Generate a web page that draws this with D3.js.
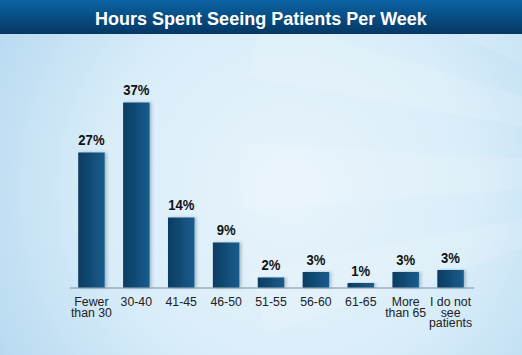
<!DOCTYPE html>
<html><head><meta charset="utf-8">
<script src="https://cdn.jsdelivr.net/npm/d3@7"></script>
<style>html,body{margin:0;padding:0;background:#d6ebf7;}svg{display:block;}</style>
</head><body>
<div id="chart"></div>
<script>
const title = "Hours Spent Seeing Patients Per Week";
const categories = ["Fewer\nthan 30", "30-40", "41-45", "46-50", "51-55", "56-60", "61-65", "More\nthan 65", "I do not\nsee\npatients"];
const values = [27, 37, 14, 9, 2, 3.1, 0.9, 3.1, 3.5];
const valueLabels = ["27%", "37%", "14%", "9%", "2%", "3%", "1%", "3%", "3%"];

const W = 522, H = 355;
const svg = d3.select("#chart").append("svg").attr("width", W).attr("height", H);
const defs = svg.append("defs");

const bg = defs.append("radialGradient").attr("id", "bg").attr("gradientUnits", "userSpaceOnUse")
  .attr("cx", 290).attr("cy", 190).attr("r", 340);
bg.append("stop").attr("offset", "0").attr("stop-color", "#e8f4fb");
bg.append("stop").attr("offset", "0.55").attr("stop-color", "#d9edf9");
bg.append("stop").attr("offset", "1").attr("stop-color", "#b6d9f0");

const tg = defs.append("linearGradient").attr("id", "tg").attr("x1", 0).attr("y1", 0).attr("x2", 0).attr("y2", 1);
tg.append("stop").attr("offset", "0").attr("stop-color", "#0b64a4");
tg.append("stop").attr("offset", "1").attr("stop-color", "#053763");

const bgGrad = defs.append("linearGradient").attr("id", "barg").attr("x1", 0).attr("y1", 0).attr("x2", 1).attr("y2", 0);
bgGrad.append("stop").attr("offset", "0").attr("stop-color", "#0c3c62");
bgGrad.append("stop").attr("offset", "1").attr("stop-color", "#175d8c");

const sh = defs.append("filter").attr("id", "sh").attr("x", "-30%").attr("y", "-10%").attr("width", "160%").attr("height", "120%");
sh.append("feDropShadow").attr("dx", 2).attr("dy", 0).attr("stdDeviation", 1.5)
  .attr("flood-color", "#3a5a70").attr("flood-opacity", 0.35);

svg.append("rect").attr("width", W).attr("height", H).attr("fill", "url(#bg)");

// subtle rays on the right
const rays = [[-0.55,-0.42],[-0.3,-0.18],[-0.05,0.08],[0.2,0.32]];
const ox = 760, oy = 170;
rays.forEach(([a1,a2]) => {
  const L = 520;
  const p = [[ox,oy],[ox - L*Math.cos(a1), oy + L*Math.sin(a1)],[ox - L*Math.cos(a2), oy + L*Math.sin(a2)]];
  svg.append("path").attr("d", "M" + p.map(d=>d.join(",")).join("L") + "Z")
    .attr("fill", "#ffffff").attr("opacity", 0.12);
});

svg.append("rect").attr("x", 0).attr("y", 0).attr("width", W).attr("height", 34).attr("fill", "url(#tg)");
svg.append("text").attr("x", 261).attr("y", 25).attr("text-anchor", "middle")
  .attr("font-family", "'Liberation Sans', Arial, sans-serif").attr("font-weight", "bold")
  .attr("font-size", 18).attr("fill", "#ffffff").text(title);

const x = d3.scaleBand().domain(categories).range([69, 473]).paddingInner(0.41).paddingOuter(0.205);
const y = d3.scaleLinear().domain([0, 40]).range([287.5, 87.5]);

svg.append("line").attr("x1", x.range()[0] + 1).attr("x2", x.range()[1] + 1)
  .attr("y1", y(0) + 0.5).attr("y2", y(0) + 0.5).attr("stroke", "#7f8f9b").attr("stroke-width", 1);

svg.append("g").selectAll("rect").data(categories).join("rect")
  .attr("x", d => x(d)).attr("width", x.bandwidth())
  .attr("y", (d, i) => y(values[i])).attr("height", (d, i) => y(0) - y(values[i]))
  .attr("fill", "url(#barg)").attr("filter", "url(#sh)");

svg.append("g").selectAll("text").data(categories).join("text")
  .attr("transform", (d, i) => `translate(${x(d) + x.bandwidth()/2},${y(values[i]) - 7.5}) scale(0.85,1)`)
  .attr("text-anchor", "middle")
  .attr("font-family", "'Liberation Sans', Arial, sans-serif").attr("font-weight", "bold")
  .attr("font-size", 15.4).attr("fill", "#111111")
  .text((d, i) => valueLabels[i]);

const cl = svg.append("g").selectAll("text").data(categories).join("text")
  .attr("x", d => x(d) + x.bandwidth()/2).attr("y", 305.7)
  .attr("text-anchor", "middle")
  .attr("font-family", "'Liberation Sans', Arial, sans-serif")
  .attr("font-size", 12.3).attr("fill", "#222222");
cl.each(function(d) {
  const t = d3.select(this);
  d.split("\n").forEach((line, k) => {
    t.append("tspan").attr("x", x(d) + x.bandwidth()/2).attr("dy", k === 0 ? 0 : 10.8).text(line);
  });
});
</script>
</body></html>
